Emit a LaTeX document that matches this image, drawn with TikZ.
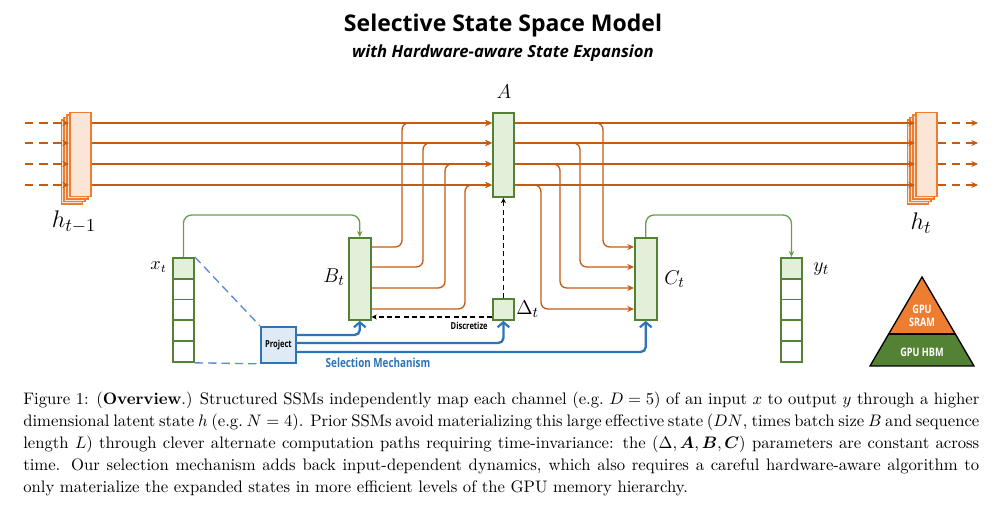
\documentclass[tikz,border=0pt]{standalone}
\usepackage{fontspec}
\usepackage{amsmath,bm}
\usetikzlibrary{arrows.meta,calc}
\newfontfamily\titlefont{Open Sans}
\newfontfamily\condfont[FakeStretch=0.78]{Open Sans}
\definecolor{orl}{HTML}{C55A11}
\definecolor{orb}{HTML}{ED7D31}
\definecolor{orf}{HTML}{FBE5D6}
\definecolor{grn}{HTML}{548235}
\definecolor{grl}{HTML}{6A9E4A}
\definecolor{grf}{HTML}{E2F0D9}
\definecolor{blu}{HTML}{2E75B6}
\definecolor{bluf}{HTML}{DEEBF7}
\definecolor{blud}{HTML}{5B8BD0}
\tikzset{
  hbox/.style={draw=orb, fill=orf, line width=0.9pt, inner sep=0pt, minimum width=12.6pt, minimum height=50.4pt, anchor=north west},
  gbox/.style={draw=grn, fill=grf, line width=1.1pt, inner sep=0pt, anchor=north west},
  cell/.style={draw=grn, fill=white, line width=1.1pt, inner sep=0pt, minimum width=12.6pt, minimum height=12.48pt, anchor=north west},
  oline/.style={draw=orl, line width=0.8pt},
  otip/.style={-{Stealth[length=4pt,width=3.6pt]}},
  gline/.style={draw=grl, line width=0.8pt, rounded corners=5pt, -{Stealth[length=3.6pt,width=3.2pt]}},
  bline/.style={draw=blu, line width=1.4pt, rounded corners=3pt, -{Straight Barb[length=3pt,width=7pt,line width=1.3pt]}},
  blued/.style={draw=blud, line width=0.8pt, dash pattern=on 5pt off 3pt},
  kdash/.style={draw=black, line width=0.7pt, dash pattern=on 3pt off 2pt, -{Stealth[length=3.2pt,width=3pt]}},
  mlbl/.style={inner sep=0pt, font=\fontsize{13}{15}\selectfont},
  slbl/.style={inner sep=0pt, font=\condfont\bfseries\fontsize{5.8}{7}\selectfont},
}
\begin{document}
\begin{tikzpicture}[x=0.6pt,y=-0.6pt]
\fill[white] (0,0) rectangle (1008,509);
\useasboundingbox (0,0) rectangle (1008,509);

% titles
\node[inner sep=0pt, font=\titlefont\bfseries\fontsize{13.8}{16}\selectfont] (title) at (503,26) {Selective State Space Model};
\node[inner sep=0pt, font=\titlefont\bfseries\itshape\fontsize{10}{12}\selectfont] (subtitle) at (503,53) {with Hardware-aware State Expansion};

% coordinates for lines
\coordinate (L1) at (0,123);
\coordinate (L2) at (0,143);
\coordinate (L3) at (0,164);
\coordinate (L4) at (0,185);
\coordinate (R1) at (0,247);
\coordinate (R2) at (0,267);
\coordinate (R3) at (0,288);
\coordinate (R4) at (0,309);
\coordinate (gy) at (0,215);
\coordinate (dy) at (0,317);
\coordinate (by1) at (0,335);
\coordinate (by2) at (0,343);
\coordinate (by3) at (0,352);

% stacked h boxes
\foreach \k in {3,2,1} {
  \node[hbox] (hLb\k) at (69-2.8*\k,112+2.5*\k) {};
  \node[hbox] (hRb\k) at (915-2.8*\k,112+2.5*\k) {};
}
\node[hbox] (hL) at (69,112) {};
\node[hbox] (hR) at (915,112) {};

% green boxes
\node[gbox, minimum width=12.6pt, minimum height=50.4pt] (A) at (492,112) {};
\node[gbox, minimum width=13pt, minimum height=49.2pt] (B) at (348,237) {};
\node[gbox, minimum width=13pt, minimum height=49.2pt] (C) at (634,237) {};
\node[gbox, minimum width=12.6pt, minimum height=12.6pt] (D) at (492,298) {};

% x_t and y_t columns
\foreach \i in {1,...,5} {
  \node[cell] (xt\i) at (172,257+20.8*\i-20.8) {};
  \node[cell] (yt\i) at (780,257+20.8*\i-20.8) {};
}
\node[cell, fill=grf] (xt1b) at (172,257) {};
\node[cell, fill=grf] (yt1b) at (780,257) {};

% project box
\node[draw=blu, fill=bluf, line width=1.1pt, inner sep=0pt, minimum width=21pt, minimum height=21.6pt, anchor=north west] (P) at (260,326) {};
\node[slbl] (Ptxt) at (P.center) {Project};

% math labels
\node[mlbl] (Alab) at (504,92) {$A$};
\node[mlbl, anchor=east] (Blab) at (345,277) {$B_t$};
\node[mlbl, anchor=west] (Clab) at (664,279) {$C_t$};
\node[mlbl, anchor=west] (Dlab) at (516,309) {$\Delta_t$};
\node[inner sep=0pt, font=\fontsize{10.5}{12}\selectfont, anchor=east] (xlab) at (167,267) {$x_t$};
\node[inner sep=0pt, font=\fontsize{12.5}{14}\selectfont, anchor=west] (ylab) at (813,269) {$y_t$};
\node[inner sep=0pt, font=\fontsize{15}{17}\selectfont] (hLlab) at (74,222) {$h_{t-1}$};
\node[inner sep=0pt, font=\fontsize{15}{17}\selectfont] (hRlab) at (921,223) {$h_t$};

% orange horizontal lines
\foreach \l in {L1,L2,L3,L4} {
  \draw[oline, dash pattern=on 5pt off 3.5pt, otip] (25,0 |- \l) -- (hL.west |- \l);
  \draw[oline, otip] (hL.east |- \l) -- (A.west |- \l);
  \draw[oline, otip] (A.east |- \l) -- (hR.west |- \l);
  \draw[oline, dash pattern=on 5pt off 3.5pt, otip] (hR.east |- \l) -- (978,0 |- \l);
}

% B outputs into A
\draw[oline, otip, rounded corners=4pt] (B.east |- R1) -| (402,0 |- L1) -- (A.west |- L1);
\draw[oline, otip, rounded corners=4pt] (B.east |- R2) -| (423,0 |- L2) -- (A.west |- L2);
\draw[oline, otip, rounded corners=4pt] (B.east |- R3) -| (445,0 |- L3) -- (A.west |- L3);
\draw[oline, otip, rounded corners=4pt] (B.east |- R4) -| (465,0 |- L4) -- (A.west |- L4);

% A outputs into C
\draw[oline, otip, rounded corners=4pt] (A.east |- L1) -| (603,0 |- R1) -- (C.west |- R1);
\draw[oline, otip, rounded corners=4pt] (A.east |- L2) -| (580,0 |- R2) -- (C.west |- R2);
\draw[oline, otip, rounded corners=4pt] (A.east |- L3) -| (560,0 |- R3) -- (C.west |- R3);
\draw[oline, otip, rounded corners=4pt] (A.east |- L4) -| (541,0 |- R4) -- (C.west |- R4);

% green connectors
\draw[gline] (xt1b.north) |- (gy -| B.north) -- (B.north);
\draw[gline] (C.north) |- (gy -| yt1b.north) -- (yt1b.north);

% discretize
\draw[kdash] (D.north) -- (A.south);
\draw[kdash] (D.west |- dy) -- (B.east |- dy);
\node[slbl, anchor=east] (disc) at (488,326) {Discretize};

% project connections
\draw[blued] (xt1b.north east) -- (P.north west);
\draw[blued] (xt5.south east) -- (P.south west);
\draw[bline] (P.east |- by1) -| (B.south);
\draw[bline] (P.east |- by2) -| (D.south);
\draw[bline] (P.east |- by3) -| (C.south);
\node[inner sep=0pt, text=blu, font=\condfont\bfseries\fontsize{7.6}{9}\selectfont] (sel) at (378,363) {Selection Mechanism};

% pyramid
\fill[orb] (922,277) -- (888.7,334) -- (955.3,334) -- cycle;
\fill[grn] (888.7,334) -- (870,366) -- (974,366) -- (955.3,334) -- cycle;
\draw[black, line width=0.8pt, line join=miter] (922,277) -- (870,366) -- (974,366) -- cycle;
\draw[black, line width=0.8pt] (888.7,334) -- (955.3,334);
\node[inner sep=0pt, text=white, align=center, font=\condfont\bfseries\fontsize{7}{7.8}\selectfont] (sram) at (922,316) {GPU\\SRAM};
\node[inner sep=0pt, text=white, font=\condfont\bfseries\fontsize{7}{8}\selectfont] (hbm) at (922,352) {GPU HBM};

% caption
\node[inner sep=0pt, anchor=north west, align=left, font=\fontsize{10}{13.2}\selectfont] (cap) at (23,392) {%
\makebox[573.6pt][s]{Figure 1: (\textbf{Overview}.) Structured SSMs independently map each channel (e.g.\ $D=5$) of an input $x$ to output $y$ through a higher}\\
\makebox[573.6pt][s]{dimensional latent state $h$ (e.g.\ $N=4$). Prior SSMs avoid materializing this large effective state ($DN$, times batch size $B$ and sequence}\\
\makebox[573.6pt][s]{length $L$) through clever alternate computation paths requiring time-invariance: the $(\Delta,\bm{A},\bm{B},\bm{C})$ parameters are constant across}\\
\makebox[573.6pt][s]{time. Our selection mechanism adds back input-dependent dynamics, which also requires a careful hardware-aware algorithm to}\\
only materialize the expanded states in more efficient levels of the GPU memory hierarchy.};
\end{tikzpicture}
\end{document}
